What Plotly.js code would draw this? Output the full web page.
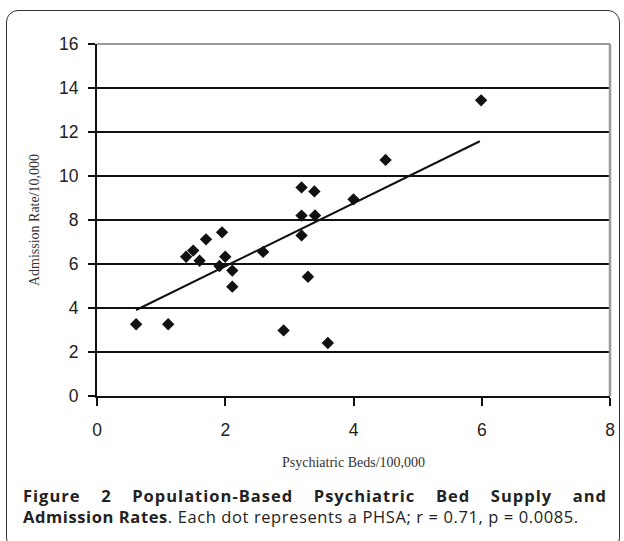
<!DOCTYPE html>
<html>
<head>
<meta charset="utf-8">
<script src="https://cdn.plot.ly/plotly-3.0.1.min.js"></script>
<style>
  html, body { margin: 0; padding: 0; background: #fff; }
  #wrap { position: relative; width: 624px; height: 541px; overflow: hidden; }
  #frame { position: absolute; left: 6px; top: 10px; width: 614px; height: 540px;
           border: 1.5px solid #333; border-radius: 12px; box-sizing: border-box; }
  #chart { position: absolute; left: 0; top: 0; width: 624px; height: 541px; }
  #caption { position: absolute; left: 23px; top: 485px; width: 584px;
             font-family: "Open Sans", sans-serif; font-size: 16.5px; line-height: 21px;
             color: #222; letter-spacing: 0.6px; white-space: nowrap; }
  #caption .l1 { text-align: justify; text-align-last: justify; display: block; font-weight: bold;
                 letter-spacing: 1px; white-space: normal; }
</style>
</head>
<body>
<div id="wrap">
  <div id="frame"></div>
  <div id="chart"></div>
  <div id="caption"><span class="l1">Figure 2 Population-Based Psychiatric Bed Supply and</span><b>Admission Rates</b>. Each dot represents a PHSA; r = 0.71, p = 0.0085.</div>
</div>
<script>
// Psychiatric beds per 100,000 (x) and admission rate per 10,000 (y), one dot per PHSA
const beds = [0.61, 1.11, 1.39, 1.50, 1.60, 1.70, 1.95, 1.91, 2.00, 2.11, 2.11, 2.59, 2.91, 3.19, 3.39, 3.19, 3.40, 3.19, 3.29, 3.60, 4.00, 4.50, 5.99];
const admissions = [3.26, 3.26, 6.33, 6.61, 6.15, 7.12, 7.44, 5.91, 6.33, 5.70, 4.97, 6.55, 2.98, 9.48, 9.30, 8.20, 8.21, 7.30, 5.42, 2.41, 8.94, 10.73, 13.44];
// Fitted trend line end points as drawn in the figure
const trendX = [0.61, 5.97];
const trendY = [3.91, 11.58];
const xTicks = [0, 2, 4, 6, 8];
const yTicks = [0, 2, 4, 6, 8, 10, 12, 14, 16];

const traces = [
  { x: trendX, y: trendY, mode: 'lines', type: 'scatter',
    line: { color: '#111', width: 2 }, hoverinfo: 'skip', showlegend: false },
  { x: beds, y: admissions, mode: 'markers', type: 'scatter',
    marker: { symbol: 'diamond', size: 9.5, color: '#111' }, showlegend: false }
];

const tickFont = { family: 'Liberation Sans, Arial, sans-serif', size: 17.5, color: '#222' };
const titleFont = { family: 'Liberation Serif, Times New Roman, serif', size: 14, color: '#333' };

const layout = {
  width: 624, height: 541,
  margin: { l: 97, r: 14, t: 44, b: 145 },
  paper_bgcolor: 'rgba(0,0,0,0)', plot_bgcolor: '#fff',
  showlegend: false,
  xaxis: {
    range: [0, 8], tickvals: xTicks, ticktext: xTicks.map(String),
    showgrid: false, zeroline: false,
    showline: true, linecolor: '#111', linewidth: 2,
    ticks: 'outside', ticklen: 8, tickwidth: 2, tickcolor: '#111',
    ticklabelstandoff: 9,
    tickfont: tickFont,
    title: { text: 'Psychiatric Beds/100,000', standoff: 18, font: titleFont }
  },
  yaxis: {
    range: [0, 16], tickvals: yTicks, ticktext: yTicks.map(String),
    showgrid: true, gridcolor: '#111', gridwidth: 2, zeroline: false,
    showline: true, linecolor: '#111', linewidth: 2,
    ticks: 'outside', ticklen: 7, tickwidth: 2, tickcolor: '#111',
    ticklabelstandoff: 6,
    tickfont: tickFont,
    title: { text: 'Admission Rate/10,000', standoff: 16, font: titleFont }
  },
  shapes: [
    { type: 'line', xref: 'paper', yref: 'paper', x0: 0, x1: 1, y0: 1, y1: 1,
      line: { color: '#999', width: 2 }, layer: 'above' },
    { type: 'line', xref: 'paper', yref: 'paper', x0: 1, x1: 1, y0: 0, y1: 1,
      line: { color: '#999', width: 2.5 }, layer: 'above' }
  ]
};

Plotly.newPlot('chart', traces, layout, { displayModeBar: false, staticPlot: true });
</script>
</body>
</html>
